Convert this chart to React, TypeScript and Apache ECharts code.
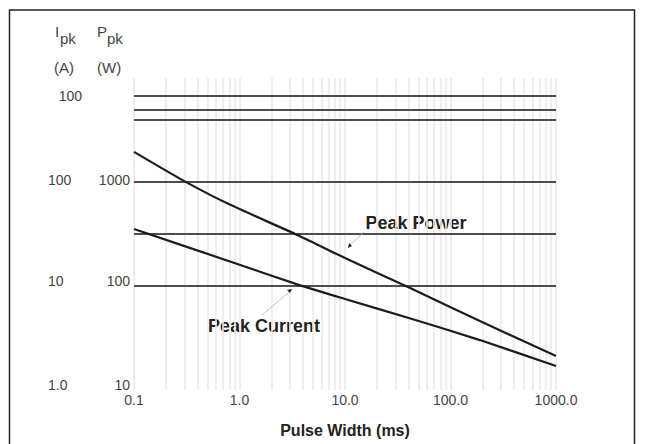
import React, { useEffect, useRef } from "react";
import * as echarts from "echarts";

// Pulse width (ms) and peak power (W)
const pulseWidthPower = [0.1, 0.3, 0.8, 3.7, 10, 41, 190, 1000];
const peakPowerW = [1950, 1020, 610, 303, 186, 96, 46, 21.2];

// Pulse width (ms) and peak current (A)
const pulseWidthCurrent = [0.1, 0.8, 3.7, 10, 41, 190, 1000];
const peakCurrentA = [35.3, 17.3, 10.2, 7.5, 4.9, 3.02, 1.7];

// Horizontal reference lines (W)
const referenceLinesW = [6700, 4900, 3950, 1000, 316, 100];
const topLineLabel = "100";

// Tick labels
const xTickLabels: Record<string, string> = { "-1": "0.1", "0": "1.0", "1": "10.0", "2": "100.0", "3": "1000.0" };
const powerTickLabels: Record<string, string> = { "1": "10", "2": "100", "3": "1000", "4": "" };
const currentTickLabels: Record<string, string> = { "0": "1.0", "1": "10", "2": "100", "3": "" };
const gridDecades = [0.1, 1, 10, 100];
const gridMultipliers = [1, 2, 3, 4, 5, 6, 7, 8, 9];

const FONT = "'Liberation Sans', Arial, Helvetica, sans-serif";
const LABEL_SIZE = 14;

export default function App() {
  const ref = useRef<HTMLDivElement>(null);

  useEffect(() => {
    document.body.style.margin = "0";
    if (!ref.current) return;
    const chart = echarts.init(ref.current, null, { renderer: "svg" });

    const exp = (v: number) => String(Math.round(Math.log10(v)));
    const vGrid = gridDecades
      .flatMap((d) => gridMultipliers.map((k) => +(k * d).toPrecision(3)))
      .concat([1000]);

    const shiftRich = {
      up: { fontSize: LABEL_SIZE, color: "#444", fontFamily: FONT, padding: [0, 0, 10, 0] },
      up2: { fontSize: LABEL_SIZE, color: "#444", fontFamily: FONT, padding: [0, 0, 4, 0] },
    };
    const shiftKey = (e: string, base: number) => (e === String(base + 2) ? "up2" : "up");

    const option: any = {
      animation: false,
      backgroundColor: "#ffffff",
      grid: { left: 134, right: 91, top: 78, bottom: 54 },
      xAxis: {
        type: "log",
        logBase: 10,
        min: 0.1,
        max: 1000,
        axisLine: { show: false },
        axisTick: { show: false },
        splitLine: { show: false },
        axisLabel: {
          color: "#444",
          fontSize: LABEL_SIZE,
          fontFamily: FONT,
          margin: 3,
          formatter: (v: number) => xTickLabels[exp(v)] ?? "",
        },
        name: "Pulse Width (ms)",
        nameLocation: "middle",
        nameGap: 32,
        nameTextStyle: { fontSize: 16, fontWeight: "bold", color: "#222", fontFamily: FONT },
      },
      yAxis: [
        {
          type: "log",
          logBase: 10,
          min: 10,
          max: 10000,
          position: "left",
          axisLine: { show: false },
          axisTick: { show: false },
          splitLine: { show: false },
          axisLabel: {
            align: "right",
            margin: 4,
            color: "#444",
            fontSize: LABEL_SIZE,
            fontFamily: FONT,
            rich: shiftRich,
            formatter: (v: number) => {
              const e = exp(v);
              const t = powerTickLabels[e] ?? "";
              return t ? `{${shiftKey(e, 1)}|${t}}` : "";
            },
          },
        },
        {
          type: "log",
          logBase: 10,
          min: 1,
          max: 1000,
          position: "left",
          axisLine: { show: false },
          axisTick: { show: false },
          splitLine: { show: false },
          axisLabel: {
            align: "left",
            margin: 86,
            color: "#444",
            fontSize: LABEL_SIZE,
            fontFamily: FONT,
            rich: shiftRich,
            formatter: (v: number) => {
              const e = exp(v);
              const t = currentTickLabels[e] ?? "";
              return t ? `{${shiftKey(e, 0)}|${t}}` : "";
            },
          },
        },
      ],
      series: [
        {
          type: "line",
          name: "grid",
          data: [],
          z: 1,
          silent: true,
          markLine: {
            silent: true,
            z: 1,
            symbol: "none",
            label: { show: false },
            lineStyle: { color: "#f0e8e8", width: 1.6, type: "solid" },
            data: vGrid.map((v) => ({ xAxis: v })),
          },
        },
        {
          type: "line",
          name: "Peak Power",
          xAxisIndex: 0,
          yAxisIndex: 0,
          z: 4,
          symbol: "none",
          smooth: 0.2,
          lineStyle: { color: "#1c1c1c", width: 2.2 },
          data: pulseWidthPower.map((x, i) => [x, peakPowerW[i]]),
          markLine: {
            silent: true,
            symbol: "none",
            z: 2,
            lineStyle: { color: "#4d4d4d", width: 1.8, type: "solid" },
            data: referenceLinesW.map((v, i) => ({
              yAxis: v,
              label:
                i === 0
                  ? {
                      show: true,
                      position: "start",
                      distance: 52,
                      formatter: topLineLabel,
                      color: "#444",
                      fontSize: LABEL_SIZE,
                      fontFamily: FONT,
                    }
                  : { show: false },
            })),
          },
        },
        {
          type: "line",
          name: "Peak Current",
          xAxisIndex: 0,
          yAxisIndex: 1,
          z: 4,
          symbol: "none",
          smooth: 0.2,
          lineStyle: { color: "#1c1c1c", width: 2.2 },
          data: pulseWidthCurrent.map((x, i) => [x, peakCurrentA[i]]),
        },
      ],
      graphic: [
        {
          type: "rect",
          shape: { x: 9.5, y: 10, width: 625, height: 470 },
          style: { fill: "none", stroke: "#222", lineWidth: 1.5 },
          silent: true,
        },
        { type: "text", x: 55, y: 31, style: { text: "I", fontSize: 15, fill: "#444", fontFamily: FONT, verticalAlign: "middle" } },
        { type: "text", x: 60, y: 38, style: { text: "pk", fontSize: 15, fill: "#444", fontFamily: FONT, verticalAlign: "middle" } },
        { type: "text", x: 54, y: 67, style: { text: "(A)", fontSize: 15, fill: "#444", fontFamily: FONT, verticalAlign: "middle" } },
        { type: "text", x: 97, y: 31, style: { text: "P", fontSize: 15, fill: "#444", fontFamily: FONT, verticalAlign: "middle" } },
        { type: "text", x: 107, y: 38, style: { text: "pk", fontSize: 15, fill: "#444", fontFamily: FONT, verticalAlign: "middle" } },
        { type: "text", x: 97, y: 67, style: { text: "(W)", fontSize: 15, fill: "#444", fontFamily: FONT, verticalAlign: "middle" } },
        {
          type: "text",
          x: 416,
          y: 223,
          style: { text: "Peak Power", fontSize: 18, fontWeight: "bold", fill: "#222", fontFamily: FONT, align: "center", verticalAlign: "middle" },
        },
        {
          type: "text",
          x: 264,
          y: 326,
          style: { text: "Peak Current", fontSize: 18, fontWeight: "bold", fill: "#222", fontFamily: FONT, align: "center", verticalAlign: "middle" },
        },
        {
          type: "line",
          shape: { x1: 364, y1: 232, x2: 350, y2: 245 },
          style: { stroke: "#b0b0b0", lineWidth: 0.8 },
          z: 10,
        },
        {
          type: "polygon",
          shape: { points: [[348, 248], [349, 243], [352, 246]] },
          style: { fill: "#222" },
          z: 10,
        },
        {
          type: "line",
          shape: { x1: 262, y1: 315, x2: 289, y2: 292 },
          style: { stroke: "#b0b0b0", lineWidth: 0.8 },
          z: 10,
        },
        {
          type: "polygon",
          shape: { points: [[292, 289], [287, 290], [290, 293]] },
          style: { fill: "#222" },
          z: 10,
        },
      ],
    };

    chart.setOption(option);
    return () => chart.dispose();
  }, []);

  return <div ref={ref} style={{ width: 647, height: 444 }} />;
}
